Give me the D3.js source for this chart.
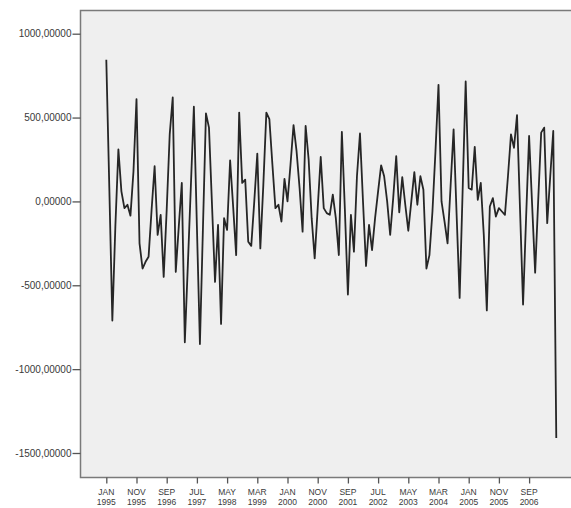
<!DOCTYPE html>
<html>
<head>
<meta charset="utf-8">
<script src="https://cdn.jsdelivr.net/npm/d3@7"></script>
<style>
  html, body { margin: 0; padding: 0; background: #fff; }
  svg { display: block; font-family: 'Liberation Sans', Arial, sans-serif; }
</style>
</head>
<body>
<div id="chart"></div>
<script>
// monthly values, JAN 1995 .. JUN 2007
const values = [
  845, 80, -710, -150, 310, 60, -40, -20, -85, 180,
  610, -250, -400, -360, -330, -50, 210, -200, -80, -450,
  -50, 400, 620, -420, -150, 110, -840, -380, 90, 565,
  -150, -850, -160, 525, 440, -20, -480, -140, -730, -100,
  -170, 245, -30, -320, 530, 110, 130, -240, -265, 0,
  285, -280, 100, 530, 490, 220, -40, -20, -120, 135,
  0, 220, 455, 300, 80, -180, 450, 250, -100, -340,
  -40, 265, -40, -70, -80, 40, -100, -320, 415, -50,
  -555, -80, -300, 150, 405, 0, -385, -140, -290, -100,
  60, 215, 150, 0, -200, 20, 270, -65, 145, -20,
  -175, 0, 175, -20, 150, 70, -400, -320, -60, 300,
  695, 0, -120, -250, 90, 430, -80, -575, 70, 715,
  80, 70, 325, 10, 110, -200, -650, -30, 20, -90,
  -40, -60, -80, 150, 400, 320, 515, -50, -615, -100,
  390, -20, -425, 0, 410, 440, -130, 150, 420, -1410
]

const xTickIdx = [0, 10, 20, 30, 40, 50, 60, 70, 80, 90, 100, 110, 120, 130, 140]
const xTickMonths = ['JAN', 'NOV', 'SEP', 'JUL', 'MAY', 'MAR', 'JAN', 'NOV', 'SEP', 'JUL', 'MAY', 'MAR', 'JAN', 'NOV', 'SEP']
const xTickYears = ['1995', '1995', '1996', '1997', '1998', '1999', '2000', '2000', '2001', '2002', '2003', '2004', '2005', '2005', '2006']
const yTicks = [1000, 500, 0, -500, -1000, -1500]

const width = 571
const height = 508
const frame = { left: 80.5, top: 10.5, bottom: 477.5, right: 580 }

const svg = d3.select('#chart').append('svg')
  .attr('width', width)
  .attr('height', height)

const x = d3.scaleLinear()
  .domain([0, values.length - 1])
  .range([106.3, 106.3 + (values.length - 1) * 3.02])

const y = d3.scaleLinear()
  .domain([-1500, 1000])
  .range([453, 33.7])

// plot background + frame
svg.append('rect')
  .attr('x', frame.left)
  .attr('y', frame.top)
  .attr('width', frame.right - frame.left)
  .attr('height', frame.bottom - frame.top)
  .attr('fill', '#efefef')
  .attr('stroke', '#7a7a7a')
  .attr('stroke-width', 1.5)

const fmt = v => d3.format('.5f')(v).replace('.', ',').replace('−', '-')

// y axis
const yAxis = svg.append('g')
  .attr('transform', `translate(${frame.left},0)`)
  .call(d3.axisLeft(y).tickValues(yTicks).tickSize(8).tickPadding(1).tickFormat(fmt))
yAxis.select('.domain').remove()
yAxis.selectAll('line').attr('stroke', '#555').attr('stroke-width', 1.3)
yAxis.selectAll('text')
  .attr('fill', '#3a3a3a')
  .style('font-size', '10px')
  .style('font-family', "'Liberation Sans', Arial, sans-serif")

// x axis
const xAxis = svg.append('g')
  .attr('transform', `translate(0,${frame.bottom})`)
  .call(d3.axisBottom(x).tickValues(xTickIdx).tickSize(6).tickFormat(''))
xAxis.select('.domain').remove()
xAxis.selectAll('line').attr('stroke', '#555').attr('stroke-width', 1.3)

const lbl = svg.append('g')
  .attr('fill', '#3a3a3a')
  .style('font-size', '8.5px')
  .attr('text-anchor', 'middle')
  .selectAll('text')
  .data(xTickIdx)
  .join('text')
  .attr('x', d => x(d))
  .attr('y', frame.bottom + 17)
lbl.append('tspan').text((d, i) => xTickMonths[i])
lbl.append('tspan').attr('x', d => x(d)).attr('dy', 10).text((d, i) => xTickYears[i])

// series line
const line = d3.line()
  .x((d, i) => x(i))
  .y(d => y(d))

svg.append('path')
  .datum(values)
  .attr('d', line)
  .attr('fill', 'none')
  .attr('stroke', '#262626')
  .attr('stroke-width', 1.8)
  .attr('stroke-linejoin', 'round')
</script>
</body>
</html>
